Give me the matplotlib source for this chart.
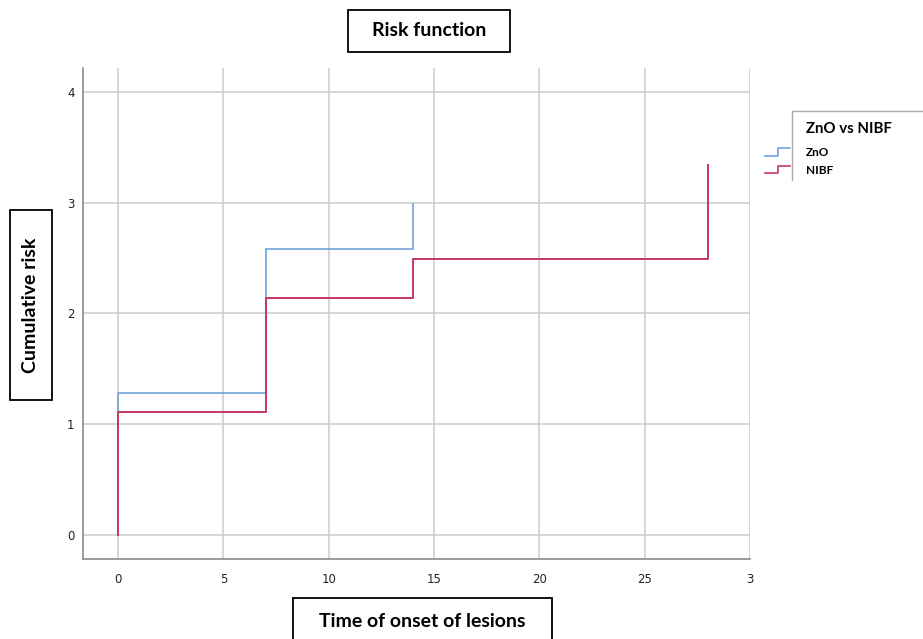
import matplotlib
matplotlib.use("Agg")
import matplotlib.pyplot as plt
from matplotlib.lines import Line2D
from matplotlib.patches import Rectangle

# Data
znO_times = [0, 0, 7, 14]
znO_risk = [0, 1.28, 2.58, 2.99]
nibf_times = [0, 0, 7, 14, 28]
nibf_risk = [0, 1.11, 2.14, 2.49, 3.34]
x_ticks = [0, 5, 10, 15, 20, 25, 30]
x_ticklabels = ["0", "5", "10", "15", "20", "25", "3"]
y_ticks = [0, 1, 2, 3, 4]
series_names = ["ZnO", "NIBF"]
legend_title = "ZnO vs NIBF"

blue = "#6fa3dc"
red = "#c9365f"

W, H = 923, 639
fig = plt.figure(figsize=(W / 100, H / 100), dpi=100)
ax = fig.add_axes([83 / W, 1 - 559 / H, (750 - 83) / W, (559 - 68) / H])

ax.step(znO_times, znO_risk, where="post", color=blue, lw=1.2, zorder=3)
ax.step(nibf_times, nibf_risk, where="post", color=red, lw=1.4, zorder=4)

ax.set_xlim(-1.67, 30)
ax.set_ylim(-0.217, 4.217)
ax.set_xticks(x_ticks)
ax.set_xticklabels(x_ticklabels)
ax.set_yticks(y_ticks)
ax.grid(True, color="#cccccc", lw=1.1)
ax.set_axisbelow(True)
for s in ["top", "right"]:
    ax.spines[s].set_visible(False)
for s in ["left", "bottom"]:
    ax.spines[s].set_color("#8a8a8a")
    ax.spines[s].set_linewidth(1.2)
ax.tick_params(length=0, labelsize=8.5, labelcolor="#222222", pad=10)
ax.tick_params(axis="y", pad=6)

tfont = dict(family="Lato", fontweight="bold", fontsize=14)

def boxed(x0, y0, x1, y1, text, rot=0):
    fig.patches.append(Rectangle((x0 / W, 1 - y1 / H), (x1 - x0) / W, (y1 - y0) / H,
                                 transform=fig.transFigure, fill=False, ec="black", lw=1.3))
    fig.text((x0 + x1) / 2 / W, 1 - (y0 + y1) / 2 / H, text, ha="center", va="center",
             rotation=rot, **tfont)

boxed(348, 10, 510, 52, "Risk function")
boxed(10, 210, 52, 400, "Cumulative risk", rot=90)
boxed(293, 598, 552, 645, "Time of onset of lesions")

# Legend
fig.lines.append(Line2D([792 / W, 792 / W, 930 / W], [1 - 180 / H, 1 - 111 / H, 1 - 111 / H],
                        transform=fig.transFigure, color="#aaaaaa", lw=1))
fig.text(806 / W, 1 - 129 / H, legend_title, ha="left", va="center",
         family="Lato", fontweight="bold", fontsize=10.8)
fig.text(806 / W, 1 - 153 / H, series_names[0], ha="left", va="center",
         family="Lato", fontweight="bold", fontsize=8.5)
fig.text(806 / W, 1 - 171 / H, series_names[1], ha="left", va="center",
         family="Lato", fontweight="bold", fontsize=8.5)
for (yl, yh, c) in [(156, 148, blue), (173, 166, red)]:
    fig.lines.append(Line2D([765 / W, 778 / W, 778 / W, 790 / W],
                            [1 - yl / H, 1 - yl / H, 1 - yh / H, 1 - yh / H],
                            transform=fig.transFigure, color=c, lw=1.2))

fig.savefig("out.png", dpi=100)
